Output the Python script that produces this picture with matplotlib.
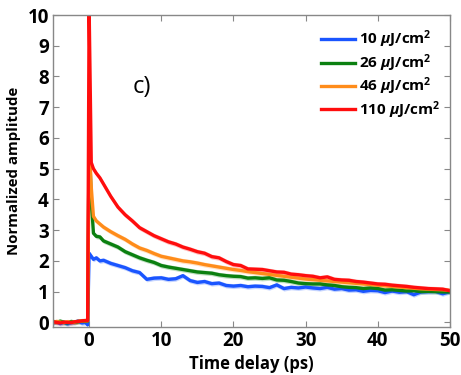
import numpy as np
import matplotlib
matplotlib.use("Agg")
import matplotlib.pyplot as plt

plt.rcParams['font.family'] = ['Open Sans', 'DejaVu Sans']
plt.rcParams['mathtext.fontset'] = 'custom'
plt.rcParams['mathtext.it'] = 'Open Sans:italic:bold'
plt.rcParams['mathtext.rm'] = 'Open Sans:bold'

# time delay (ps)
t = [-5, -4.5, -4, -3.5, -3, -2.5, -2, -1.5, -1, -0.5, -0.2, 0, 0.3, 0.6, 1, 1.5, 2,
     3, 4, 5, 6, 7, 8, 9, 10, 11, 12, 13, 14, 15, 16, 17, 18, 19, 20,
     21, 22, 23, 24, 25, 26, 27, 28, 29, 30, 31, 32, 33, 34, 35,
     36, 37, 38, 39, 40, 41, 42, 43, 44, 45, 46, 47, 48, 49, 50]

amp_10 = [-0.02, 0.02, -0.04, 0.0, -0.05, -0.01, 0.0, 0.05, -0.02, 0.0, -0.08, 2.25, 2.15, 2.05, 2.1, 2.0, 2.02,
          1.92, 1.85, 1.78, 1.68, 1.62, 1.4, 1.44, 1.45, 1.4, 1.42, 1.52, 1.36, 1.3, 1.33, 1.26, 1.28, 1.2, 1.18,
          1.2, 1.16, 1.18, 1.17, 1.13, 1.22, 1.1, 1.14, 1.12, 1.15, 1.12, 1.1, 1.14, 1.08, 1.1,
          1.05, 1.06, 1.01, 1.04, 1.03, 0.97, 1.02, 0.98, 1.0, 0.9, 0.99, 1.0, 1.01, 0.93, 1.0]
amp_26 = [0.03, 0.0, 0.04, 0.0, -0.02, 0.03, 0.0, 0.02, 0.04, 0.03, 0.04, 6.0, 4.0, 2.9, 2.8, 2.78, 2.65,
          2.55, 2.45, 2.3, 2.2, 2.1, 2.02, 1.95, 1.85, 1.8, 1.76, 1.72, 1.68, 1.64, 1.62, 1.6, 1.55, 1.52, 1.5,
          1.49, 1.44, 1.45, 1.43, 1.45, 1.38, 1.37, 1.33, 1.28, 1.26, 1.25, 1.25, 1.22, 1.2, 1.16,
          1.14, 1.13, 1.1, 1.12, 1.1, 1.05, 1.06, 1.04, 1.02, 1.03, 1.0, 1.01, 1.0, 0.99, 0.99]
amp_46 = [0.0, 0.03, 0.01, -0.01, 0.02, 0.0, 0.01, 0.04, 0.05, 0.05, 0.05, 5.9, 4.4, 3.45, 3.3, 3.2, 3.1,
          2.95, 2.82, 2.7, 2.55, 2.42, 2.34, 2.24, 2.15, 2.1, 2.05, 2.0, 1.97, 1.93, 1.88, 1.84, 1.8, 1.76, 1.72,
          1.69, 1.65, 1.62, 1.59, 1.56, 1.53, 1.5, 1.47, 1.44, 1.41, 1.39, 1.37, 1.35, 1.33, 1.31,
          1.29, 1.27, 1.25, 1.23, 1.21, 1.19, 1.17, 1.15, 1.13, 1.11, 1.09, 1.08, 1.07, 1.06, 1.04]
amp_110 = [0.02, 0.0, -0.02, 0.01, 0.0, -0.01, 0.02, 0.03, 0.05, 0.06, 0.06, 10.3, 5.2, 5.0, 4.85, 4.7, 4.5,
           4.1, 3.75, 3.5, 3.3, 3.08, 2.95, 2.82, 2.72, 2.62, 2.55, 2.45, 2.38, 2.3, 2.25, 2.14, 2.1, 1.98, 1.88,
           1.85, 1.74, 1.73, 1.72, 1.68, 1.64, 1.63, 1.57, 1.55, 1.52, 1.5, 1.45, 1.48, 1.4, 1.38,
           1.37, 1.33, 1.31, 1.28, 1.25, 1.24, 1.21, 1.19, 1.17, 1.14, 1.12, 1.1, 1.09, 1.08, 1.03]

labels = [r'10 $\mu$J/cm$^2$', r'26 $\mu$J/cm$^2$', r'46 $\mu$J/cm$^2$', r'110 $\mu$J/cm$^2$']
series = [amp_10, amp_26, amp_46, amp_110]
colors = ['#1a55ff', '#0b8010', '#ff8c1a', '#ff0d0d']
band = 0.08  # half width of the shaded error band

fig = plt.figure(figsize=(4.61, 3.75), dpi=100)
ax = fig.add_axes([0.115, 0.128, 0.861, 0.832])

tt = np.array(t)
for y, c, lab in zip(series, colors, labels):
    y = np.array(y)
    ax.fill_between(tt, y - band, y + band, color=c, alpha=0.25, lw=0)
    ax.plot(tt, y, color=c, lw=2.4, label=lab)

ax.set_xlim(-5, 50)
ax.set_ylim(-0.15, 10)
ax.set_xticks([0, 10, 20, 30, 40, 50])
ax.set_yticks(range(0, 11))
ax.tick_params(direction='in', top=True, right=True, length=4, color='#888888',
               labelsize=13.5, pad=3)
for lab in ax.get_xticklabels() + ax.get_yticklabels():
    lab.set_fontweight('bold')
for s in ax.spines.values():
    s.set_color('#888888')
    s.set_linewidth(1)

ax.set_xlabel('Time delay (ps)', fontsize=12, fontweight='bold', labelpad=3)
ax.set_ylabel('Normalized amplitude', fontsize=10.8, fontweight='bold', labelpad=5)

ax.text(7.3, 7.65, 'c)', fontsize=17, ha='center', va='center')

leg = ax.legend(loc='upper right', frameon=False, prop={'weight': 'bold', 'size': 11},
                handlelength=2.2, handletextpad=0.3, labelspacing=0.12,
                borderaxespad=0.2, bbox_to_anchor=(1.0, 0.985))

fig.savefig('out.png', dpi=100)
